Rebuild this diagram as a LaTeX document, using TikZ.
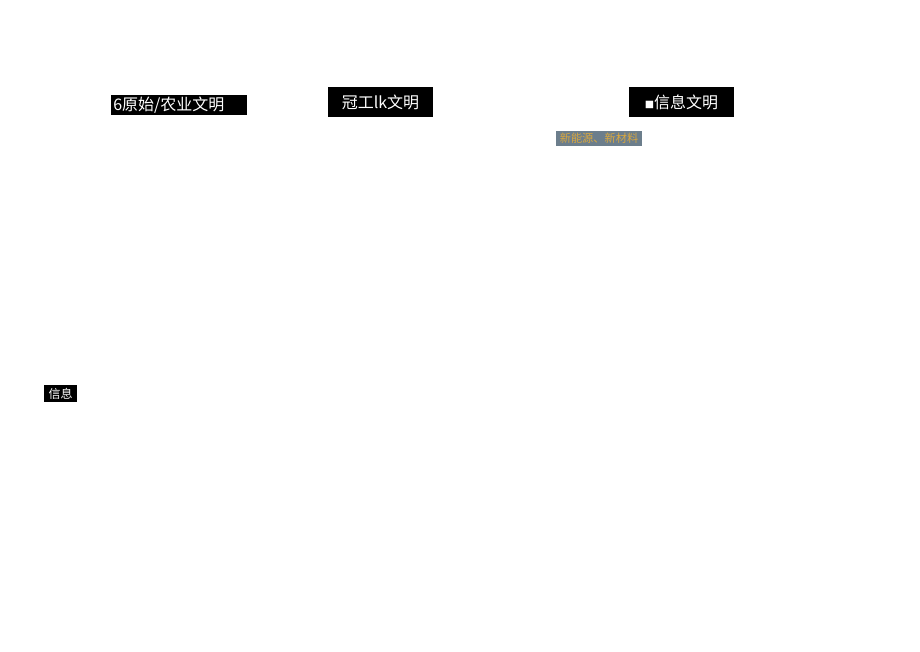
\documentclass[tikz,border=0pt]{standalone}
\usepackage{fontspec}
\setmainfont{Noto Sans CJK SC}
\definecolor{tagfill}{RGB}{108,126,140}
\definecolor{tagtext}{RGB}{218,168,62}
\tikzset{
  era/.style={fill=black, text=white, inner sep=1pt, font=\fontsize{12}{12}\selectfont},
  tag/.style={fill=tagfill, text=tagtext, inner sep=1pt, font=\fontsize{8.4}{8.4}\selectfont}
}
\begin{document}
\begin{tikzpicture}[x=0.75pt, y=-0.75pt]
            \useasboundingbox (0, 0) rectangle (920, 651);
            \node[era, anchor=west, minimum width=102pt, minimum height=15pt, text width=99pt, align=left] (agri) at (111, 105) {6原始/农业文明};
            \node[era, minimum width=78.75pt, minimum height=22.5pt] (ind) at (380.5, 102) {冠工lk文明};
            \node[era, minimum width=78.75pt, minimum height=22.5pt] (info) at (681.5, 102) {{\fontsize{7}{7}\selectfont ■}信息文明};
            \node[tag, minimum width=64.5pt, minimum height=11.25pt] (mat) at (599, 138.5) {新能源、新材料};
            \node[era, minimum width=24.75pt, minimum height=12.75pt, font=\fontsize{9}{9}\selectfont] (xinxi) at (60.5, 393.5) {信息};
        \end{tikzpicture}
\end{document}
